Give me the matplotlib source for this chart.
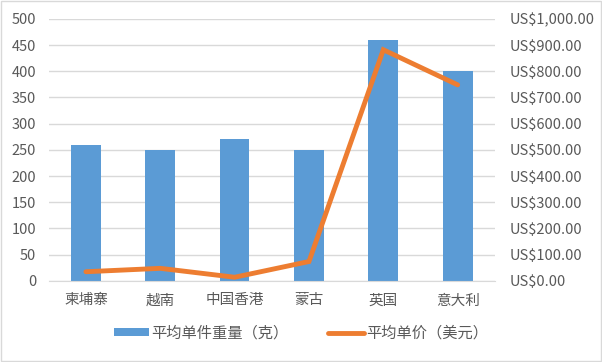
import matplotlib
matplotlib.use('Agg')
from matplotlib import pyplot as plt
from matplotlib.ticker import FuncFormatter
from matplotlib.patches import Rectangle

plt.rcParams['font.family'] = ['Noto Sans CJK SC', 'DejaVu Sans']

categories = ['柬埔寨', '越南', '中国香港', '蒙古', '英国', '意大利']
weight = [260, 250, 270, 250, 460, 400]
price = [35, 48, 14, 74, 882, 748]

blue = '#5B9BD5'
orange = '#ED7D31'
grey = '#595959'

fig = plt.figure(figsize=(6.02, 3.62), dpi=100)
ax = fig.add_axes([0.081, 0.224, 0.741, 0.724])
ax2 = ax.twinx()

x = list(range(len(categories)))
b = ax.bar(x, weight, width=0.4, color=blue, zorder=2)
l, = ax2.plot(x, price, color=orange, linewidth=3.5,
              solid_capstyle='round', solid_joinstyle='miter', zorder=3)

ax.set_ylim(0, 500)
ax.set_yticks(range(0, 501, 50))
ax2.set_ylim(0, 1000)
ax2.set_yticks(range(0, 1001, 100))
ax2.yaxis.set_major_formatter(FuncFormatter(lambda v, p: 'US${:,.2f}'.format(v)))
ax.set_xlim(-0.5, len(categories) - 0.5)
ax.set_xticks(x)
ax.set_xticklabels(categories)

ax.grid(axis='y', color='#D9D9D9', linewidth=1, zorder=0)
ax.set_axisbelow(True)
for a in (ax, ax2):
    for s in a.spines.values():
        s.set_visible(False)
    a.tick_params(length=0, colors=grey, labelsize=10.5)
ax.spines['bottom'].set_visible(True)
ax.spines['bottom'].set_color('#D9D9D9')
ax.tick_params(axis='y', pad=9)
ax.tick_params(axis='x', pad=9)
ax2.tick_params(axis='y', pad=11)
ax2.set_zorder(ax.get_zorder() + 1)
ax2.patch.set_visible(False)

fig.legend([b, l], ['平均单件重量（克）', '平均单价（美元）'], loc='center',
           bbox_to_anchor=(0.5, 0.08), ncol=2, frameon=False, fontsize=11,
           labelcolor=grey, handlelength=2.3, handleheight=0.5, handletextpad=0.15,
           columnspacing=2.6)

fig.patches.append(Rectangle((0.002, 0.003), 0.996, 0.994, transform=fig.transFigure,
                             fill=False, edgecolor='#D9D9D9', linewidth=1))

fig.savefig('out.png', dpi=100)
